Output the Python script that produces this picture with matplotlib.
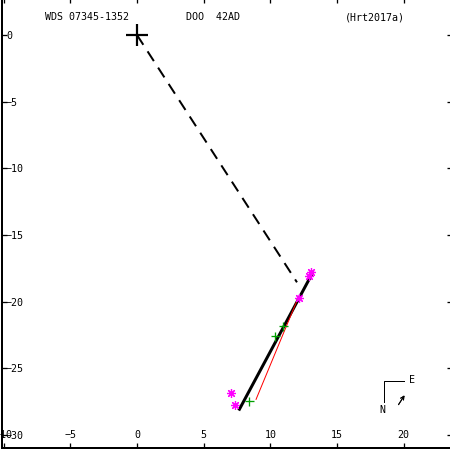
import matplotlib.pyplot as plt
from matplotlib.lines import Line2D

# orbit track (very thin ellipse seen edge-on) and line to periastron
orbit_x = [7.63, 13.23]
orbit_y = [-28.17, -17.73]
peri_x = [0.0, 12.0]
peri_y = [0.0, -18.55]

# residual (red) line
resid_x = [8.93, 12.08]
resid_y = [-27.33, -19.73]

# micrometer measures (green +)
micro_x = [8.43, 10.35, 10.93]
micro_y = [-27.43, -22.58, -21.83]

# speckle measures (magenta *)
speck_x = [7.03, 7.38, 12.18, 12.9, 13.05]
speck_y = [-26.83, -27.76, -19.75, -18.1, -17.8]

xticks = [-10, -5, 0, 5, 10, 15, 20]
yticks = [0, -5, -10, -15, -20, -25, -30]

W = 450
fig = plt.figure(figsize=(4.5, 4.5), dpi=100)
ax = fig.add_axes([2 / W, 2 / W, 1, 1])
px = 72 / 100  # one pixel in points

ax.plot(peri_x, peri_y, color='black', lw=2 * px, dashes=(5.8, 3.9))
ax.plot(orbit_x, orbit_y, color='black', lw=3 * px, solid_capstyle='butt')
ax.plot(resid_x, resid_y, color='red', lw=1 * px)
ax.plot([0], [0], marker='+', color='black', ms=22 * px, mew=2.2 * px)
ax.plot(micro_x, micro_y, ls='none', marker='+', color='#00a000', ms=9 * px, mew=1.3 * px)
ax.plot(speck_x, speck_y, ls='none', marker=(8, 2, 0), color='#ff00ff', ms=9 * px, mew=1.2 * px)

ax.set_xlim(-10.13, 23.63)
ax.set_ylim(-30.98, 2.78)

ax.set_xticks(xticks)
ax.set_yticks(yticks)
ax.set_xticklabels(['\u221210' if t < 0 else str(t) for t in xticks])
ax.set_xticklabels([str(t).replace('-', '\u2212') for t in xticks])
ax.set_yticklabels([str(t).replace('-', '\u2212') for t in yticks])
ax.tick_params(direction='in', length=5 * px, width=1.3 * px,
               top=True, right=True, labelsize=7.2, labelfontfamily='DejaVu Sans Mono')
ax.tick_params(axis='x', pad=-13 * px)
ax.tick_params(axis='y', pad=-4 * px)
for lab in ax.get_xticklabels():
    lab.set_va('center')
for lab in ax.get_yticklabels():
    lab.set_ha('left')

ax.spines['top'].set_visible(False)
ax.spines['right'].set_visible(False)
for s in ['left', 'bottom']:
    ax.spines[s].set_linewidth(2 * px)

mono = dict(family='DejaVu Sans Mono', fontsize=7.2, va='center')
fig.text(45 / W, 1 - 17 / W, 'WDS 07345-1352', ha='left', **mono)
fig.text(186 / W, 1 - 17 / W, 'DOO  42AD', ha='left', **mono)
fig.text(345 / W, 1 - 17 / W, '(Hrt2017a)', ha='left', **mono)

# N/E compass
fig.add_artist(Line2D([384 / W, 384 / W, 404 / W], [1 - 402 / W, 1 - 381 / W, 1 - 381 / W],
                      color='black', lw=1 * px))
fig.text(412 / W, 1 - 380 / W, 'E', ha='center', **mono)
fig.text(382 / W, 1 - 410 / W, 'N', ha='center', **mono)
fig.add_artist(plt.annotate('', xy=(406 / W, 1 - 393 / W), xytext=(397 / W, 1 - 407 / W),
                            xycoords='figure fraction',
                            arrowprops=dict(arrowstyle='->', lw=1 * px, color='black',
                                            mutation_scale=6)))

fig.savefig('out.png', dpi=100)
